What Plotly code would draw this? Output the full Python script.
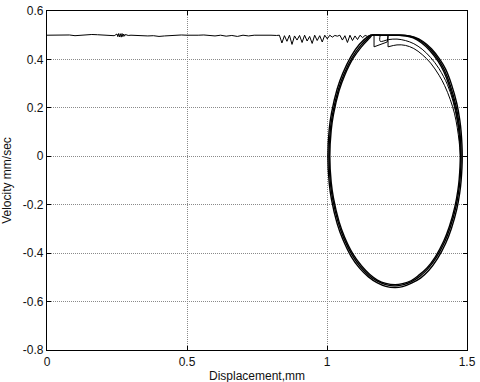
import plotly.graph_objects as go

# ---- data ----
approach_x = [0.00, 0.02, 0.04, 0.06, 0.08, 0.10, 0.12, 0.14, 0.15, 0.16, 0.18, 0.20, 0.22, 0.24,
              0.250, 0.253, 0.256, 0.259, 0.262, 0.265, 0.268, 0.271, 0.274, 0.277, 0.280,
              0.29, 0.30, 0.32, 0.34, 0.36, 0.38,
              0.40, 0.42, 0.44, 0.46, 0.48, 0.50, 0.52, 0.54, 0.56, 0.58, 0.60, 0.62, 0.64, 0.66,
              0.68, 0.70, 0.72, 0.74, 0.76, 0.78, 0.80, 0.82,
              0.830, 0.839, 0.848, 0.857, 0.866, 0.875, 0.884, 0.893, 0.902, 0.911, 0.920, 0.929,
              0.938, 0.947, 0.956, 0.965, 0.974, 0.983, 0.992, 1.001, 1.010, 1.019, 1.028, 1.037,
              1.046, 1.055, 1.064, 1.073, 1.082, 1.091, 1.100, 1.109, 1.118, 1.127, 1.136, 1.145,
              1.154, 1.168]
approach_v = [0.500, 0.501, 0.499, 0.500, 0.501, 0.498, 0.500, 0.501, 0.503, 0.503, 0.502, 0.500,
              0.497, 0.498,
              0.505, 0.494, 0.507, 0.493, 0.506, 0.492, 0.507, 0.494, 0.505, 0.496, 0.503,
              0.499, 0.500, 0.498, 0.496, 0.497, 0.498,
              0.495, 0.497, 0.499, 0.500, 0.501, 0.500, 0.499, 0.500, 0.501,
              0.499, 0.497, 0.500, 0.496, 0.499, 0.495, 0.500, 0.497, 0.500, 0.501, 0.500, 0.500,
              0.499,
              0.500, 0.468, 0.498, 0.475, 0.500, 0.462, 0.497, 0.480, 0.499, 0.470, 0.500, 0.476,
              0.495, 0.466, 0.500, 0.478, 0.498, 0.472, 0.500, 0.485, 0.500, 0.492, 0.499, 0.496,
              0.500, 0.480, 0.498, 0.470, 0.500, 0.478, 0.497, 0.482, 0.500, 0.490, 0.499, 0.495,
              0.500, 0.500]

saw_x = [1.168, 1.168, 1.215, 1.218, 1.218]
saw_v = [0.500, 0.452, 0.472, 0.500, 0.452]

inner1_x = [1.218, 1.25, 1.28, 1.31, 1.34, 1.37, 1.40, 1.42, 1.44, 1.455, 1.465, 1.472, 1.477]
inner1_v = [0.452, 0.460, 0.458, 0.445, 0.420, 0.385, 0.335, 0.292, 0.235, 0.178, 0.120, 0.060, 0.000]

inner2_x = [1.190, 1.190, 1.22, 1.25, 1.28, 1.31, 1.34, 1.37, 1.40, 1.43, 1.45, 1.465, 1.475]
inner2_v = [0.500, 0.475, 0.482, 0.484, 0.478, 0.465, 0.442, 0.408, 0.362, 0.296, 0.228, 0.150, 0.070]

outer1_x = [1.159, 1.20, 1.25, 1.28, 1.31, 1.34, 1.37, 1.40, 1.42, 1.44, 1.46, 1.47, 1.475, 1.479,
            1.475, 1.47, 1.46, 1.44, 1.42, 1.39, 1.36, 1.33, 1.30, 1.27, 1.243, 1.21, 1.18,
            1.15, 1.12, 1.09, 1.06, 1.04, 1.02, 1.012, 1.007, 1.012, 1.02, 1.04, 1.06, 1.09,
            1.12, 1.15, 1.159]
outer1_v = [0.500, 0.500, 0.500, 0.499, 0.491, 0.472, 0.441, 0.396, 0.354, 0.294, 0.211, 0.147,
            0.098, 0.000, -0.098, -0.147, -0.211, -0.294, -0.354, -0.419, -0.465, -0.497, -0.519,
            -0.531, -0.535, -0.530, -0.516, -0.492, -0.457, -0.408, -0.338, -0.273, -0.175,
            -0.110, 0.000, 0.110, 0.175, 0.273, 0.338, 0.408, 0.457, 0.492, 0.500]

outer2_x = [1.156, 1.20, 1.25, 1.28, 1.312, 1.343, 1.373, 1.403, 1.424, 1.444, 1.464, 1.474, 1.479,
            1.483, 1.479, 1.474, 1.464, 1.444, 1.424, 1.394, 1.364, 1.334, 1.30, 1.27, 1.243,
            1.21, 1.18, 1.148, 1.117, 1.086, 1.056, 1.036, 1.016, 1.008, 1.003, 1.008, 1.016,
            1.036, 1.056, 1.086, 1.116, 1.147, 1.156]
outer2_v = [0.500, 0.500, 0.500, 0.499, 0.492, 0.474, 0.444, 0.400, 0.359, 0.299, 0.216, 0.151,
            0.101, 0.000, -0.101, -0.151, -0.216, -0.299, -0.359, -0.424, -0.471, -0.503, -0.525,
            -0.538, -0.542, -0.537, -0.523, -0.498, -0.463, -0.413, -0.342, -0.277, -0.178,
            -0.112, 0.000, 0.112, 0.178, 0.277, 0.342, 0.413, 0.463, 0.495, 0.500]

outer3_x = [1.162, 1.20, 1.25, 1.28, 1.308, 1.337, 1.367, 1.397, 1.417, 1.437, 1.457, 1.467, 1.472,
            1.476, 1.472, 1.467, 1.457, 1.437, 1.417, 1.387, 1.357, 1.327, 1.30, 1.27, 1.243,
            1.21, 1.18, 1.152, 1.123, 1.093, 1.063, 1.043, 1.023, 1.015, 1.010, 1.015, 1.023,
            1.043, 1.063, 1.093, 1.123, 1.153, 1.162]
outer3_v = [0.500, 0.500, 0.500, 0.498, 0.489, 0.469, 0.437, 0.392, 0.350, 0.290, 0.207, 0.144,
            0.096, 0.000, -0.096, -0.144, -0.207, -0.290, -0.350, -0.415, -0.461, -0.492, -0.514,
            -0.526, -0.530, -0.525, -0.511, -0.487, -0.452, -0.404, -0.334, -0.270, -0.172,
            -0.108, 0.000, 0.108, 0.172, 0.270, 0.334, 0.404, 0.452, 0.489, 0.500]

x_ticks = [0, 0.5, 1, 1.5]
x_ticktext = ["0", "0.5", "1", "1.5"]
y_ticks = [-0.8, -0.6, -0.4, -0.2, 0, 0.2, 0.4, 0.6]
y_ticktext = ["-0.8", "-0.6", "-0.4", "-0.2", "0", "0.2", "0.4", "0.6"]

fig = go.Figure()
line_lin = dict(color="black", width=1)
line_spl = dict(color="black", width=1.4, shape="spline", smoothing=1.0)

fig.add_trace(go.Scatter(x=approach_x, y=approach_v, mode="lines", line=line_lin))
fig.add_trace(go.Scatter(x=saw_x, y=saw_v, mode="lines", line=line_lin))
fig.add_trace(go.Scatter(x=inner1_x, y=inner1_v, mode="lines",
                         line=dict(color="black", width=1, shape="spline")))
fig.add_trace(go.Scatter(x=inner2_x, y=inner2_v, mode="lines",
                         line=dict(color="black", width=1, shape="spline")))
for ox, ov in [(outer1_x, outer1_v), (outer2_x, outer2_v), (outer3_x, outer3_v)]:
    fig.add_trace(go.Scatter(x=ox, y=ov, mode="lines", line=line_spl))

axis_common = dict(showline=True, linecolor="black", linewidth=1.2, mirror="ticks",
                   ticks="inside", ticklen=4, tickcolor="black", tickwidth=1,
                   showgrid=True, gridcolor="#8a8a8a", griddash="1px,1px", gridwidth=1,
                   zeroline=False, automargin=False,
                   tickfont=dict(size=12, color="#111111"))

fig.update_layout(
    width=480, height=382,
    margin=dict(l=47, r=13, t=11, b=32),
    plot_bgcolor="white", paper_bgcolor="white",
    showlegend=False,
    font=dict(family="Liberation Sans, Arial, sans-serif", size=12, color="#111111"),
    xaxis=dict(range=[0, 1.5], tickvals=x_ticks, ticktext=x_ticktext, **axis_common),
    yaxis=dict(range=[-0.8, 0.6], tickvals=y_ticks, ticktext=y_ticktext,
               title=dict(text="Velocity mm/sec", font=dict(size=12), standoff=8),
               **axis_common),
    annotations=[dict(text="Displacement,mm", xref="paper", yref="paper", x=0.5, y=0,
                      xanchor="center", yanchor="top", yshift=-17, showarrow=False,
                      font=dict(size=12, color="#111111"))],
)

fig.write_html("out.html")
